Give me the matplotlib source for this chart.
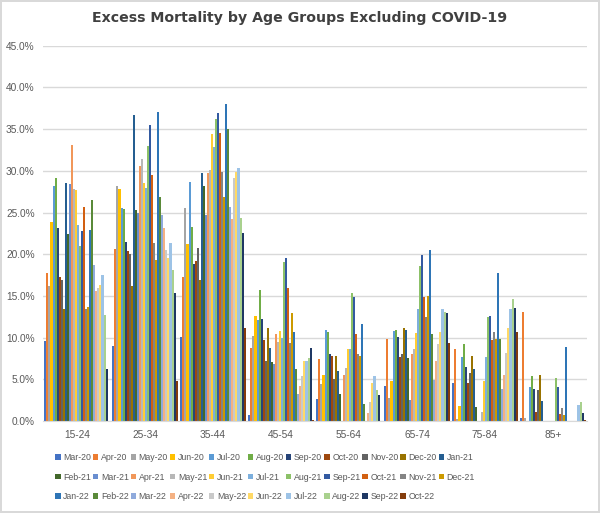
import numpy as np
import matplotlib
matplotlib.use("Agg")
import matplotlib.pyplot as plt
from matplotlib.ticker import PercentFormatter, MultipleLocator

# age groups on the x axis
age_groups = ["15-24", "25-34", "35-44", "45-54", "55-64", "65-74", "75-84", "85+"]

# one series per month
months = ["Mar-20", "Apr-20", "May-20", "Jun-20", "Jul-20", "Aug-20", "Sep-20", "Oct-20",
          "Nov-20", "Dec-20", "Jan-21", "Feb-21", "Mar-21", "Apr-21", "May-21", "Jun-21",
          "Jul-21", "Aug-21", "Sep-21", "Oct-21", "Nov-21", "Dec-21", "Jan-22", "Feb-22",
          "Mar-22", "Apr-22", "May-22", "Jun-22", "Jul-22", "Aug-22", "Sep-22", "Oct-22"]

# excess mortality (%) per age group, Mar-20 .. Oct-22
v_15_24 = [9.6, 17.7, 16.2, 23.9, 28.2, 29.1, 23.2, 17.3, 16.9, 13.4, 28.5, 22.4, 28.4, 33.1, 27.8, 27.7,
           23.5, 21.0, 22.8, 25.7, 13.4, 13.7, 22.9, 26.5, 18.7, 15.6, 15.9, 16.3, 17.5, 12.7, 6.2, 0.0]
v_25_34 = [9.0, 20.6, 28.2, 27.8, 25.5, 25.4, 21.5, 20.4, 20.0, 16.2, 36.7, 25.3, 25.0, 30.6, 31.4, 28.5,
           27.9, 33.0, 35.5, 29.5, 21.3, 19.3, 37.1, 26.9, 24.7, 23.1, 20.5, 19.6, 21.3, 18.1, 15.3, 4.8]
v_35_44 = [10.1, 17.3, 25.6, 21.2, 28.7, 23.3, 18.8, 19.2, 20.7, 16.9, 29.7, 28.2, 24.7, 29.7, 30.1, 34.4,
           32.8, 36.2, 36.9, 34.5, 29.9, 26.9, 38.0, 35.0, 25.7, 24.2, 29.1, 29.9, 30.3, 24.3, 22.5, 11.2]
v_45_54 = [0.7, 8.8, 10.2, 12.6, 12.1, 15.7, 12.3, 9.7, 7.2, 11.2, 8.8, 7.1, 6.8, 10.4, 9.5, 10.8,
           10.0, 19.1, 19.6, 15.9, 9.4, 13.0, 10.7, 6.2, 3.2, 4.2, 5.4, 7.2, 7.2, 7.6, 8.8, 0.2]
v_55_64 = [2.6, 7.4, 4.4, 5.5, 10.9, 10.7, 8.0, 7.8, 5.0, 7.8, 6.0, 3.3, 0.0, 5.5, 6.4, 8.6,
           8.7, 15.3, 14.9, 10.5, 8.0, 7.8, 11.6, 2.1, 0.0, 1.0, 2.3, 4.6, 5.4, 3.7, 3.1, 0.0]
v_65_74 = [4.2, 9.8, 2.8, 4.8, 10.8, 10.9, 10.1, 7.7, 8.0, 11.2, 10.9, 7.6, 2.5, 8.0, 8.7, 10.6,
           13.5, 18.6, 19.9, 14.9, 12.5, 15.0, 20.5, 10.5, 4.9, 7.2, 9.2, 10.7, 13.4, 13.1, 13.0, 9.4]
v_75_84 = [4.6, 8.7, 0.3, 1.8, 7.7, 9.2, 6.5, 4.6, 5.8, 7.8, 6.3, 1.7, 0.0, 0.0, 1.1, 4.8,
           7.7, 12.5, 12.6, 9.7, 10.7, 9.8, 17.7, 9.8, 3.8, 5.5, 8.2, 11.2, 13.5, 14.6, 13.6, 10.7]
v_85_plus = [0.4, 13.1, 0.4, 0.0, 4.1, 5.4, 3.8, 1.1, 3.7, 5.5, 2.4, 0.0, 0.0, 0.0, 0.0, 0.0,
             0.0, 5.2, 4.1, 0.8, 1.6, 0.7, 8.9, 0.0, 0.0, 0.0, 0.0, 0.0, 1.9, 2.3, 1.0, 0.2]

# Excel default series palette
colors = ["#4472C4", "#ED7D31", "#A5A5A5", "#FFC000", "#5B9BD5", "#70AD47",
          "#264478", "#9E480E", "#636363", "#997300", "#255E91", "#43682B",
          "#698ED0", "#F1975A", "#B7B7B7", "#FFCD33", "#7CAFDD", "#8CC168",
          "#335AA1", "#D26012", "#848484", "#CC9A00", "#2E75B6", "#5A8A39",
          "#8FAADC", "#F4B183", "#C9C9C9", "#FFD966", "#9DC3E6", "#A9D18E",
          "#1F3864", "#843C0C"]

values = np.array([v_15_24, v_25_34, v_35_44, v_45_54, v_55_64, v_65_74, v_75_84, v_85_plus])

fig = plt.figure(figsize=(6.0, 5.13), dpi=100, linewidth=1.5, edgecolor="#D9D9D9")
ax = fig.add_axes([0.0717, 0.179, 0.9066, 0.732])

x = np.arange(len(age_groups))
w = 0.96 / len(months)
bars = []
for j, m in enumerate(months):
    b = ax.bar(x + (j - (len(months) - 1) / 2) * w, values[:, j], w,
               color=colors[j], label=m, linewidth=0)
    bars.append(b)

ax.set_xlim(-0.5, len(age_groups) - 0.5)
ax.set_ylim(0, 45)
ax.yaxis.set_major_locator(MultipleLocator(5))
ax.yaxis.set_major_formatter(PercentFormatter(decimals=1))
ax.set_xticks(x)
ax.set_xticklabels(age_groups)
ax.grid(axis="y", color="#D9D9D9", linewidth=1)
ax.set_axisbelow(True)
for s in ["top", "right", "left"]:
    ax.spines[s].set_visible(False)
ax.spines["bottom"].set_color("#D9D9D9")
ax.tick_params(length=0, labelsize=7.3, colors="#595959", pad=6)
for lab in ax.get_xticklabels() + ax.get_yticklabels():
    lab.set_family("Liberation Sans")

fig.text(0.5, 0.965, "Excess Mortality by Age Groups Excluding COVID-19",
         ha="center", va="center", fontsize=10.2, fontweight="bold", color="#404040")

# legend is filled row by row (11 per row), matplotlib fills column by column
ncol, nrow = 11, 3
order = [r * ncol + c for c in range(ncol) for r in range(nrow) if r * ncol + c < len(months)]
fig.legend([bars[i] for i in order], [months[i] for i in order],
           loc="upper left", bbox_to_anchor=(0.085, 0.125), ncol=ncol, frameon=False,
           prop={"family": "Liberation Sans", "size": 6.3}, handlelength=0.6, handleheight=0.6,
           handletextpad=0.3, columnspacing=0.22, labelspacing=1.2, borderpad=0, labelcolor="#595959")

fig.savefig("out.png", dpi=100)
